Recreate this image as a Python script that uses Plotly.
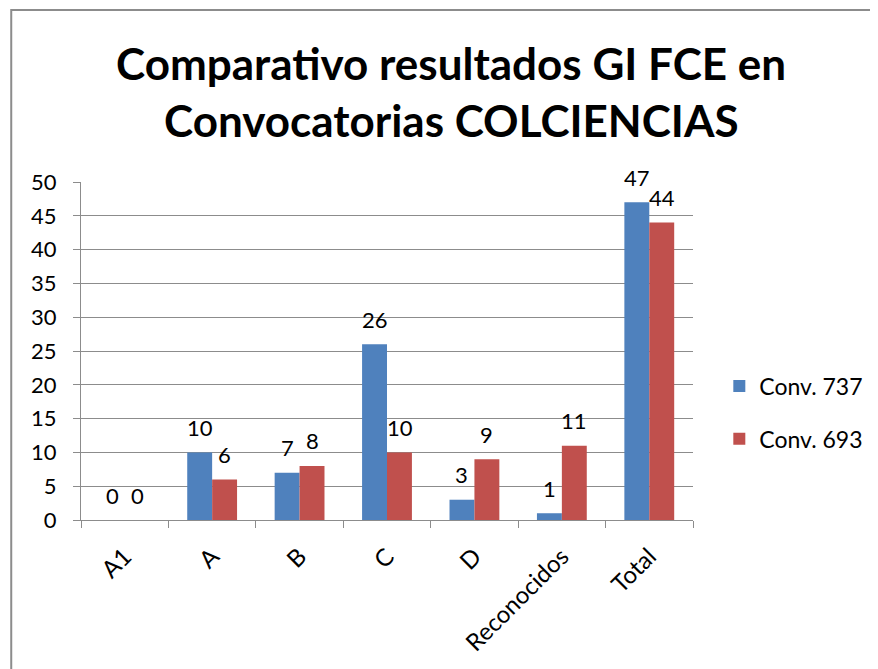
import plotly.graph_objects as go

categories = ["A1", "A", "B", "C", "D", "Reconocidos", "Total"]
conv_737 = [0, 10, 7, 26, 3, 1, 47]
conv_693 = [0, 6, 8, 10, 9, 11, 44]
series_names = ["Conv. 737", "Conv. 693"]
y_ticks = [0, 5, 10, 15, 20, 25, 30, 35, 40, 45, 50]
title_lines = ["Comparativo resultados GI FCE en", "Convocatorias COLCIENCIAS"]

BLUE = "#4F81BD"
RED = "#C0504D"
GRID = "#8C8C8C"
FONT = "Lato"

fig = go.Figure()
fig.add_trace(go.Bar(x=categories, y=conv_737, name=series_names[0],
                     marker=dict(color=BLUE, line=dict(width=0)),
                     legendgroup="a"))
fig.add_trace(go.Bar(x=categories, y=conv_693, name=series_names[1],
                     marker=dict(color=RED, line=dict(width=0)),
                     legendgroup="b"))

annotations = []
for vals, shift in ((conv_737, -12.5), (conv_693, 12.5)):
    for c, v in zip(categories, vals):
        annotations.append(dict(x=c, y=v, xref="x", yref="y", text=str(v),
                                showarrow=False, xshift=shift, yshift=25,
                                font=dict(family=FONT, size=22, color="black")))

for line, ypos in zip(title_lines, (1.352, 1.183)):
    annotations.append(dict(x=0.605, y=ypos, xref="paper", yref="paper",
                            xanchor="center", yanchor="middle",
                            text="<b>" + line + "</b>", showarrow=False,
                            font=dict(family=FONT, size=44, color="black")))

fig.update_layout(
    width=870, height=661,
    margin=dict(l=73, r=185, t=174, b=149, autoexpand=False),
    paper_bgcolor="white", plot_bgcolor="white",
    barmode="group", bargap=0.43, bargroupgap=0,
    font=dict(family=FONT, size=22, color="black"),
    showlegend=True,
    legend=dict(x=1.043, xanchor="left", y=0.318, yanchor="middle",
                traceorder="grouped", tracegroupgap=20,
                font=dict(family=FONT, size=23, color="black"),
                bgcolor="rgba(0,0,0,0)"),
    xaxis=dict(type="category", showline=True, linecolor=GRID, linewidth=1,
               ticks="outside", tickson="boundaries", ticklen=7, tickcolor=GRID,
               tickangle=-45, showgrid=False, ticklabelstandoff=12,
               tickfont=dict(family=FONT, size=24, color="black")),
    yaxis=dict(range=[0, 50], tickvals=y_ticks, showline=True, linecolor=GRID,
               linewidth=1, ticks="outside", ticklen=7, tickcolor=GRID,
               showgrid=True, gridcolor=GRID, gridwidth=1, zeroline=False,
               ticklabelstandoff=12,
               tickfont=dict(family=FONT, size=22, color="black")),
    shapes=[dict(type="rect", xref="paper", yref="paper",
                 x0=-0.114, x1=1.5, y0=-0.6, y1=1.509,
                 line=dict(color="#8C8C8C", width=2), fillcolor="rgba(0,0,0,0)",
                 layer="below")],
    annotations=annotations,
)

fig.write_html("out.html")
